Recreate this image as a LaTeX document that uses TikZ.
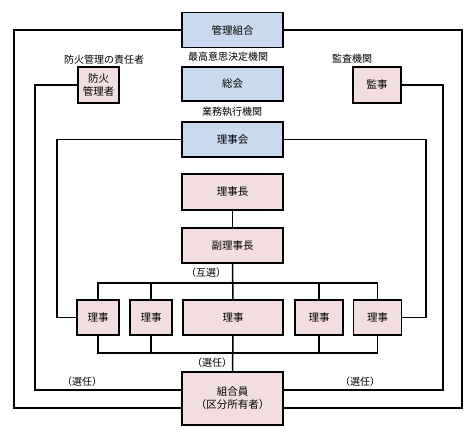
\documentclass[tikz,border=0pt]{standalone}
\usepackage{fontspec}
\newfontfamily\jp{Noto Sans CJK JP}
\definecolor{ao}{HTML}{C9DAF0}
\definecolor{momo}{HTML}{F2DEDE}
\tikzset{
  box/.style={draw,line width=1.5pt,minimum height=35pt,inner sep=1pt,align=center,font=\jp\fontsize{10.5}{13}\selectfont},
  aobox/.style={box,fill=ao,minimum width=101pt},
  momobox/.style={box,fill=momo},
  lbl/.style={font=\jp\fontsize{10}{12}\selectfont,inner sep=0pt},
  sen/.style={lbl,font=\jp\fontsize{10}{12}\selectfont},
}
\begin{document}
\begin{tikzpicture}[x=1pt,y=-1pt,line width=1.5pt]
    \useasboundingbox (0,0) rectangle (474,439);
    % upper column
    \node[aobox] (kanri) at (232.5,30) {管理組合};
    \node[lbl] (saikou) at (228,57) {最高意思決定機関};
    \node[aobox,minimum height=34pt] (soukai) at (232.5,84) {総会};
    \node[lbl] (gyoumu) at (232,112) {業務執行機関};
    \node[aobox] (rijikai) at (232.5,139.5) {理事会};
    \node[momobox,minimum width=101pt,minimum height=36pt] (chou) at (232.5,192) {理事長};
    \node[momobox,minimum width=101pt] (fuku) at (232.5,245.5) {副理事長};
    % side boxes
    \node[lbl] (boukalbl) at (104,60) {防火管理の責任者};
    \node[momobox,minimum width=41pt,minimum height=36pt] (bouka) at (98.5,85) {防火\\管理者};
    \node[lbl] (kansalbl) at (352,59) {監査機関};
    \node[momobox,minimum width=48pt,minimum height=36pt] (kanji) at (377,85) {監事};
    % riji row
    \node[momobox,minimum width=42pt] (r1) at (98,317.5) {理事};
    \node[momobox,minimum width=42pt] (r2) at (151,317.5) {理事};
    \node[momobox,minimum width=100pt] (r3) at (233,317.5) {理事};
    \node[momobox,minimum width=48pt] (r4) at (319,317.5) {理事};
    \node[momobox,minimum width=48pt] (r5) at (377.5,317.5) {理事};
    \node[momobox,minimum width=101pt,minimum height=53pt] (kumiai) at (232.5,398.5) {組合員\\（区分所有者）};
    % labels
    \node[sen] (gosen) at (206,273) {（互選）};
    \node[sen] (sennin) at (212,363) {（選任）};
    \node[sen] (senninL) at (82,382) {（選任）};
    \node[sen] (senninR) at (360,382) {（選任）};
    % connectors
    \coordinate (oL) at (14,408);
    \coordinate (oR) at (462,408);
    \coordinate (fL) at (35,390);
    \coordinate (fR) at (443,390);
    \coordinate (rL) at (57,317.5);
    \coordinate (rR) at (426,317.5);
    \coordinate (bt) at (0,283);
    \coordinate (bb) at (0,353);
    \draw (kanri.west) -| (oL) -- (oL -| kumiai.west);
    \draw (kanri.east) -| (oR) -- (oR -| kumiai.east);
    \draw (bouka.west) -| (fL) -- (fL -| kumiai.west);
    \draw (kanji.east) -| (fR) -- (fR -| kumiai.east);
    \draw (rijikai.west) -| (rL) -- (r1.west);
    \draw (rijikai.east) -| (rR) -- (r5.east);
    \draw (chou) -- (fuku);
    \draw (fuku.south) -- (r3.north);
    \draw (r3.south) -- (kumiai.north);
    \draw (r1.north) |- (r5.north |- bt) -- (r5.north);
    \draw (r1.south) |- (r5.south |- bb) -- (r5.south);
    \foreach \r in {r2,r4} {
      \draw (\r.north) -- (\r.north |- bt);
      \draw (\r.south) -- (\r.south |- bb);
    }
\end{tikzpicture}
\end{document}
